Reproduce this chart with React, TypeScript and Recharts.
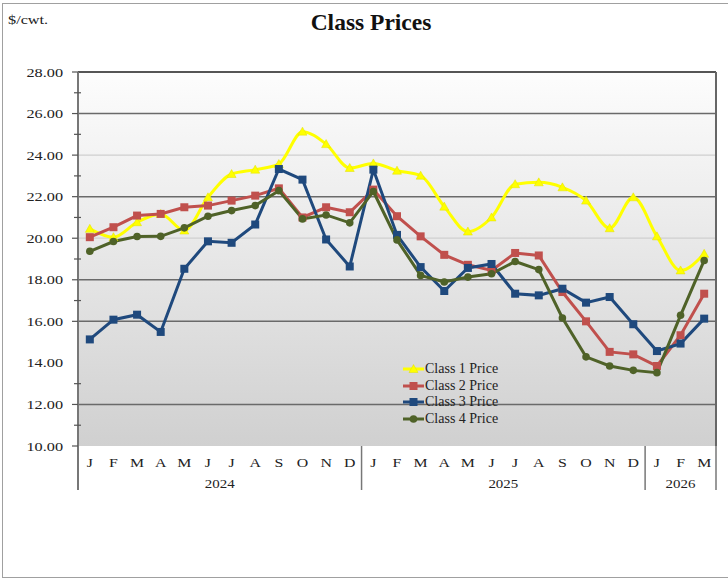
import React from 'react';
import { LineChart, Line, XAxis, YAxis, CartesianGrid, ReferenceLine, Legend } from 'recharts';

const monthLetters = ['J','F','M','A','M','J','J','A','S','O','N','D','J','F','M','A','M','J','J','A','S','O','N','D','J','F','M'];
const periods = monthLetters.map((m, i) => `${2024 + Math.floor(i / 12)}-${(i % 12) + 1}`);
const yearLabels = [
  { label: '2024', centerAfterIndex: 5 },
  { label: '2025', centerAfterIndex: 17 },
  { label: '2026', centerAfterIndex: 25.5 },
];
const yearStartIndexes = [0, 12, 24];

const class1 = [20.45,20.05,20.77,21.17,20.37,21.97,23.09,23.30,23.57,25.13,24.53,23.38, 23.60,23.25,23.01,21.52,20.32,21.00,22.60,22.69,22.45,21.81,20.48,21.97, 20.09,18.45,19.25];
const class2 = [20.05,20.53,21.09,21.17,21.49,21.57,21.81,22.05,22.40,21.00,21.49,21.25, 22.34,21.06,20.09,19.20,18.72,18.45,19.29,19.17,17.41,16.00,14.53,14.41, 13.85,15.33,17.33];
const class3 = [15.13,16.08,16.32,15.49,18.53,19.85,19.78,20.66,23.33,22.82,19.94,18.64, 23.30,20.16,18.61,17.46,18.57,18.76,17.33,17.25,17.57,16.90,17.17,15.86, 14.57,14.93,16.13];
const class4 = [19.37,19.84,20.08,20.09,20.50,21.06,21.33,21.57,22.29,20.93,21.12,20.74, 22.25,19.92,18.21,17.89,18.13,18.29,18.88,18.49,16.16,14.29,13.85,13.64, 13.53,16.29,18.93];

const yTicks = [10,11,12,13,14,16,17,18,19,20,21,22,23,24,25,26,27,28];
const gridDark = [28, 26, 22, 18, 16, 12];
const gridLight = [24, 20];

const data = periods.map((p, i) => ({
  period: p,
  c1: class1[i],
  c2: class2[i],
  c3: class3[i],
  c4: class4[i],
}));

const FONT = '"Liberation Serif", "Times New Roman", serif';
const W = 728;
const H = 581;
const PLOT_LEFT = 78;
const PLOT_RIGHT = 716;
const PLOT_BOTTOM = 446;
const BAND = (PLOT_RIGHT - PLOT_LEFT) / monthLetters.length;

const series = [
  { key: 'c1', name: 'Class 1 Price', color: '#ffff00', marker: 'triangle', type: 'monotone' },
  { key: 'c2', name: 'Class 2 Price', color: '#c0504d', marker: 'square', type: 'linear' },
  { key: 'c3', name: 'Class 3 Price', color: '#1f497d', marker: 'square', type: 'linear' },
  { key: 'c4', name: 'Class 4 Price', color: '#4f6228', marker: 'circle', type: 'linear' },
];

function Marker({ cx, cy, kind, color }: any) {
  if (cx == null || cy == null) return null;
  if (kind === 'triangle') {
    return <polygon points={`${cx},${cy - 4.5} ${cx + 4.5},${cy + 3.5} ${cx - 4.5},${cy + 3.5}`} fill={color} stroke="#e0e000" strokeWidth={0.5} />;
  }
  if (kind === 'square') {
    return <rect x={cx - 4} y={cy - 4} width={8} height={8} fill={color} />;
  }
  return <circle cx={cx} cy={cy} r={3.8} fill={color} />;
}

function XTick(props: any) {
  const { x, payload } = props;
  const index = props.index ?? payload.index;
  const letter = monthLetters[index];
  const items: any[] = [];
  items.push(
    <text key="m" transform={`translate(${x},${PLOT_BOTTOM + 20.5}) scale(1.22,1)`} textAnchor="middle" fontSize={13} fontFamily={FONT} fill="#222">{letter}</text>
  );
  if (yearStartIndexes.includes(index)) {
    items.push(<line key="s" x1={x - BAND / 2} x2={x - BAND / 2} y1={PLOT_BOTTOM} y2={490} stroke="#777" strokeWidth={index === 0 ? 2 : 1.5} />);
  }
  if (index === monthLetters.length - 1) {
    items.push(<line key="e" x1={x + BAND / 2} x2={x + BAND / 2} y1={PLOT_BOTTOM} y2={490} stroke="#777" strokeWidth={1.5} />);
  }
  yearLabels.forEach((yl) => {
    const base = Math.floor(yl.centerAfterIndex);
    if (base === index) {
      const cx = yl.centerAfterIndex % 1 === 0 ? x + BAND / 2 : x;
      items.push(
        <text key={'y' + yl.label} transform={`translate(${cx},${487.5}) scale(1.15,1)`} textAnchor="middle" fontSize={13} fontFamily={FONT} fill="#222">{yl.label}</text>
      );
    }
  });
  return <g>{items}</g>;
}

function YTick(props: any) {
  const { y, payload } = props;
  const v = payload.value;
  const major = v % 2 === 0;
  return (
    <g>
      {v !== 14 && (
        major
          ? <line x1={PLOT_LEFT - 6} x2={PLOT_LEFT} y1={y} y2={y} stroke="#555" strokeWidth={1.2} />
          : <line x1={PLOT_LEFT - 4} x2={PLOT_LEFT + 3} y1={y} y2={y} stroke="#555" strokeWidth={1.2} />
      )}
      {major && (
        <text transform={`translate(63,${y + 4.5}) scale(1.3,1)`} textAnchor="end" fontSize={12.5} fontFamily={FONT} fill="#222">{v.toFixed(2)}</text>
      )}
    </g>
  );
}

function LegendContent() {
  return (
    <div style={{ fontFamily: FONT, fontSize: 14, color: '#222', width: 140 }}>
      {series.map((s) => (
        <div key={s.key} style={{ display: 'flex', alignItems: 'center', height: 16.5, whiteSpace: 'nowrap' }}>
          <svg width={24} height={12} style={{ display: 'block', flexShrink: 0 }}>
            <line x1={2} x2={23} y1={6} y2={6} stroke={s.color} strokeWidth={3} />
            <Marker cx={12.5} cy={6} kind={s.marker} color={s.color} />
          </svg>
          <span style={{ marginLeft: 0 }}>{s.name}</span>
        </div>
      ))}
    </div>
  );
}

export default function App() {
  return (
    <div style={{ position: 'absolute', left: 0, top: 0, width: W, height: H, overflow: 'hidden', background: '#fff' }}>
      <div style={{ position: 'absolute', left: 2, top: 3, width: W + 10, height: H - 6, border: '1px solid #a0a0a0', boxSizing: 'border-box' }} />
      <div style={{ position: 'absolute', left: 8, top: 12, fontFamily: FONT, fontSize: 13, color: '#222', transform: 'scale(1.25,1)', transformOrigin: 'left top' }}>$/cwt.</div>
      <div style={{ position: 'absolute', left: 0, width: 742, top: 9, textAlign: 'center', fontFamily: FONT, fontSize: 23.5, fontWeight: 'bold', color: '#111' }}>Class Prices</div>
      <div style={{ position: 'absolute', left: 0, top: 0 }}>
        <LineChart width={W} height={H} data={data} margin={{ top: 72, right: 0, left: 0, bottom: 90 }}>
          <defs>
            <linearGradient id="bgGrad" x1="0" y1="0" x2="0" y2="1">
              <stop offset="0%" stopColor="#fdfdfd" />
              <stop offset="100%" stopColor="#d0d0d0" />
            </linearGradient>
          </defs>
          <CartesianGrid fill="url(#bgGrad)" fillOpacity={1} horizontal={false} vertical={false} stroke="none" />
          {gridLight.map((v) => (
            <ReferenceLine key={'l' + v} y={v} stroke="#cfcfcf" strokeWidth={1.2} />
          ))}
          {gridDark.map((v) => (
            <ReferenceLine key={'d' + v} y={v} stroke={v === 28 ? '#555' : '#6a6a6a'} strokeWidth={v === 28 ? 2 : 1.5} />
          ))}
          <XAxis
            dataKey="period"
            interval={0}
            height={45}
            axisLine={false}
            tickLine={false}
            padding={{ left: BAND / 2, right: BAND / 2 }}
            tick={<XTick />}
          />
          <YAxis
            yAxisId={0}
            width={78}
            domain={[10, 28]}
            ticks={yTicks}
            interval={0}
            axisLine={{ stroke: '#777', strokeWidth: 2 }}
            tickLine={false}
            tick={<YTick />}
          />
          <YAxis
            yAxisId="right"
            orientation="right"
            width={12}
            domain={[10, 28]}
            tick={false}
            tickLine={false}
            axisLine={{ stroke: '#666', strokeWidth: 2 }}
          />
          {series.map((s) => (
            <Line
              key={s.key}
              yAxisId={0}
              type={s.type as any}
              dataKey={s.key}
              name={s.name}
              stroke={s.color}
              strokeWidth={3}
              isAnimationActive={false}
              dot={(p: any) => <Marker key={`${s.key}-${p.index}`} cx={p.cx} cy={p.cy} kind={s.marker} color={s.color} />}
              activeDot={false}
            />
          ))}
          <Legend
            content={<LegendContent />}
            layout="vertical"
            wrapperStyle={{ position: 'absolute', left: 401, top: 361, width: 0, height: 0, overflow: 'visible' }}
          />
        </LineChart>
      </div>
    </div>
  );
}
